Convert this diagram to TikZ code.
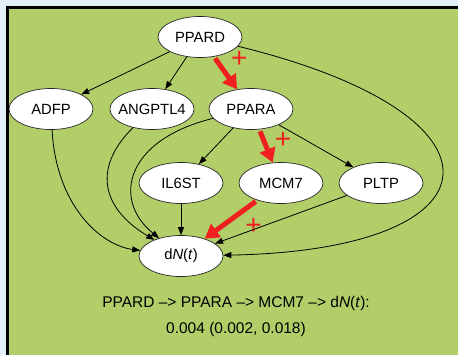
\documentclass[tikz,border=0pt]{standalone}
\usepackage{fontspec}
\setmainfont{Liberation Sans}
\usetikzlibrary{arrows.meta,quotes,shapes.geometric}
\definecolor{panelgreen}{RGB}{178,206,104}
\definecolor{paleblue}{RGB}{226,240,250}
\definecolor{pathred}{RGB}{240,32,32}
\tikzset{
	gene/.style={
			ellipse, draw=black!85, line width=0.7pt, fill=white,
			minimum width=84pt, minimum height=41pt,
			inner xsep=-4pt, inner ysep=0pt,
			font=\fontsize{14.8}{16}\selectfont
		}
}
\newcommand{\plus}{{\fontsize{28}{28}\selectfont +}}

\begin{document}
\begin{tikzpicture}[x=1pt, y=-1pt,
every edge/.style = {draw, -{Triangle[length=8pt,width=6pt]}, line width=0.8pt, black},
every edge quotes/.append style = {inner sep=3pt, pos=0.4, text=pathred},
      link/.style = {draw, -{Triangle[length=8pt,width=6pt]}, line width=0.8pt, black},
       hot/.style = {draw=pathred, line width=5pt, shorten <=2pt,
                     -{Triangle[length=14pt,width=16pt]}}
                    ]
\useasboundingbox (0,0) rectangle (458,354);
\clip (0,0) rectangle (458,354);
\fill[paleblue] (0,0) rectangle (458,354);
\filldraw[fill=panelgreen, draw=black, line width=3pt] (7.5,7.5) rectangle (470,370);

% genes
\node[gene] (ppard)   at (200,37)  {PPARD};
\node[gene] (adfp)    at (51,109)  {ADFP};
\node[gene] (angptl4) at (152,109) {ANGPTL4};
\node[gene] (ppara)   at (251,109) {PPARA};
\node[gene] (il6st)   at (181,183) {IL6ST};
\node[gene] (mcm7)    at (281,183) {MCM7};
\node[gene] (pltp)    at (381,183) {PLTP};
\node[gene] (dn)      at (181,256) {d\textit{N}(\textit{t})};

% straight links
\draw   (ppard) edge (adfp)
        (ppard) edge (angptl4)
        (ppard) edge [hot, "\plus" pos=0.5] (ppara)
        (ppara) edge (il6st)
        (ppara) edge [hot, "\plus" pos=0.75] (mcm7)
        (ppara) edge (pltp)
        (il6st) edge (dn)
        (mcm7)  edge [hot, "\plus" pos=0.33] (dn)
        (pltp)  edge (dn);

% curved links
\draw[link] (ppard) .. controls (520,115) and (505,250) .. (dn);
\draw[link] (adfp) .. controls (56,205) and (100,245) .. (dn);
\draw[link] (angptl4) .. controls (95,165) and (98,206) .. (dn);
\draw[link] (ppara) .. controls (125,140) and (112,200) .. (dn);

% path score
\node[font=\fontsize{15.5}{17}\selectfont] (route) at (236,303)
     {PPARD --{}> PPARA --{}> MCM7 --{}> d\textit{N}(\textit{t}):};
\node[font=\fontsize{15.5}{17}\selectfont] (score) at (236,329)
     {0.004 (0.002, 0.018)};
\end{tikzpicture}
\end{document}
